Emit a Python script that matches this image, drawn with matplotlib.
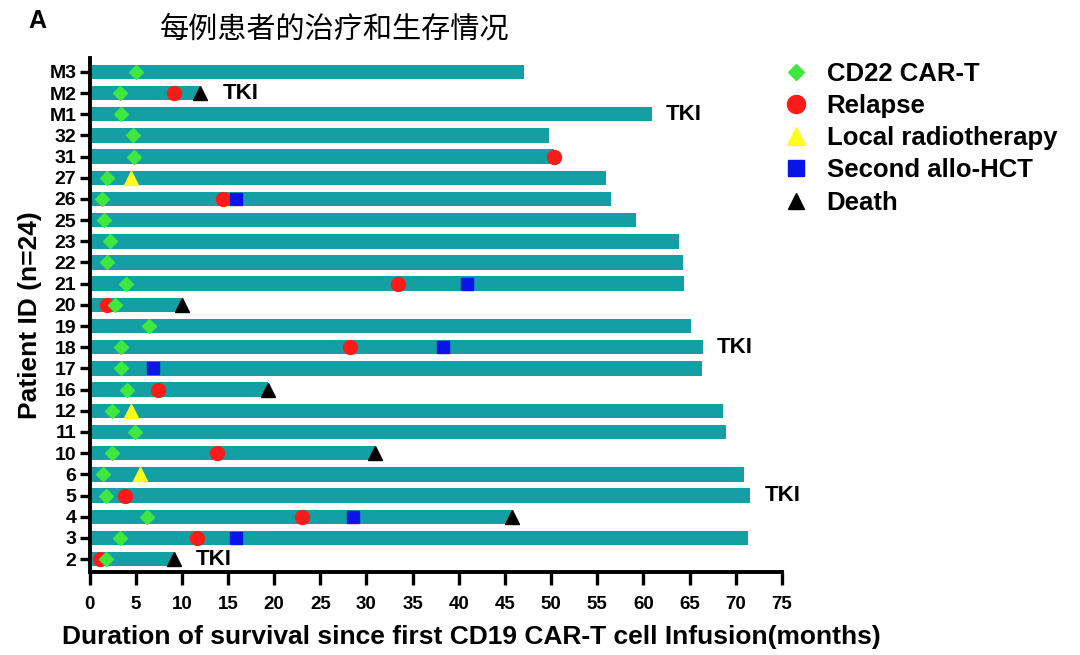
import numpy as np
import matplotlib
matplotlib.use("Agg")
from matplotlib import pyplot as plt
from matplotlib.lines import Line2D

plt.rcParams['font.family'] = ['Liberation Sans', 'DejaVu Sans']

# 患者 (自下而上)
patients = ['2', '3', '4', '5', '6', '10', '11', '12', '16', '17', '18', '19',
            '20', '21', '22', '23', '25', '26', '27', '31', '32', 'M1', 'M2', 'M3']
survival = [9.1, 71.3, 45.8, 71.6, 70.9, 30.9, 69.0, 68.6, 19.3, 66.4, 66.5, 65.2,
            10.0, 64.4, 64.3, 63.9, 59.2, 56.5, 56.0, 50.3, 49.8, 60.9, 12.0, 47.1]
cd22 = [1.8, 3.3, 6.2, 1.8, 1.5, 2.4, 4.9, 2.4, 4.1, 3.4, 3.4, 6.4,
        2.8, 3.9, 1.9, 2.2, 1.6, 1.4, 1.9, 4.8, 4.7, 3.4, 3.3, 5.0]
nan = np.nan
relapse = [1.1, 11.6, 23.0, 3.8, nan, 13.8, nan, nan, 7.4, nan, 28.2, nan,
           1.9, 33.4, nan, nan, nan, 14.5, nan, 50.3, nan, nan, 9.1, nan]
radio = [nan, nan, nan, nan, 5.5, nan, nan, 4.5, nan, nan, nan, nan,
         nan, nan, nan, nan, nan, nan, 4.5, nan, nan, nan, nan, nan]
hct = [nan, 15.9, 28.5, nan, nan, nan, nan, nan, nan, 6.9, 38.3, nan,
       nan, 40.9, nan, nan, nan, 15.9, nan, nan, nan, nan, nan, nan]
death = [9.1, nan, 45.8, nan, nan, 30.9, nan, nan, 19.3, nan, nan, nan,
         10.0, nan, nan, nan, nan, nan, nan, nan, nan, nan, 12.0, nan]
tki = ['2', '5', '18', 'M1', 'M2']

y = np.arange(len(patients))

fig = plt.figure(figsize=(10.8, 6.55), dpi=100)
ax = fig.add_axes([0.0829, 0.1267, 0.641, 0.785])

ax.barh(y, survival, height=0.68, color='#12a0a4', zorder=1)

ms = 10
ax.plot(relapse, y, 'o', color='#ff1a1a', ms=ms, zorder=3)
ax.plot(radio, y, '^', color='#ffff1a', ms=ms, zorder=3)
ax.plot(hct, y, 's', color='#0a14e6', ms=9, zorder=4)
ax.plot(cd22, y, 'D', color='#3ee83e', ms=7, zorder=5)
ax.plot(death, y, '^', color='black', ms=ms, zorder=5)

for i, p in enumerate(patients):
    if p in tki:
        off = 16 if not np.isnan(death[i]) else 10
        ax.annotate('TKI', (survival[i], y[i]), xytext=(off, 0), textcoords='offset points',
                    va='center', ha='left', fontsize=16, fontweight='bold')

ax.set_xlim(0, 75)
ax.set_ylim(-0.61, 23.66)
ax.set_xticks(np.arange(0, 76, 5))
ax.set_yticks(y)
ax.set_yticklabels(patients, fontsize=14, fontweight='bold')
for lab in ax.get_xticklabels():
    lab.set_fontsize(13.5)
    lab.set_fontweight('bold')

ax.spines['top'].set_visible(False)
ax.spines['right'].set_visible(False)
ax.spines['left'].set_linewidth(2.8)
ax.spines['bottom'].set_linewidth(2.8)
ax.tick_params(axis='both', width=2.4, direction='out')
ax.tick_params(axis='x', length=9.5, pad=8)
ax.tick_params(axis='y', length=7.5, pad=2)

ax.set_xlabel('Duration of survival since first CD19 CAR-T cell Infusion(months)',
              fontsize=19, fontweight='bold')
ax.xaxis.set_label_coords(0.551, -0.104)
ax.set_ylabel('Patient ID (n=24)', fontsize=19, fontweight='bold', labelpad=5)

fig.text(0.026, 0.968, 'A', fontsize=18, fontweight='bold', va='center')
fig.text(0.31, 0.955, '每例患者的治疗和生存情况', fontsize=21,
         family=['Noto Sans CJK SC', 'DejaVu Sans'], va='center', ha='center')

handles = [
    Line2D([], [], ls='none', marker='D', color='#3ee83e', ms=8),
    Line2D([], [], ls='none', marker='o', color='#ff1a1a', ms=13),
    Line2D([], [], ls='none', marker='^', color='#ffff1a', ms=13),
    Line2D([], [], ls='none', marker='s', color='#0a14e6', ms=12),
    Line2D([], [], ls='none', marker='^', color='black', ms=12),
]
labels = ['CD22 CAR-T', 'Relapse', 'Local radiotherapy', 'Second allo-HCT', 'Death']
fig.legend(handles, labels, loc='upper left', bbox_to_anchor=(0.70, 0.941), frameon=False,
           prop={'size': 18.5, 'weight': 'bold'}, labelspacing=0.32, handletextpad=0.55,
           handlelength=1.3)

fig.savefig('out.png', dpi=100)
